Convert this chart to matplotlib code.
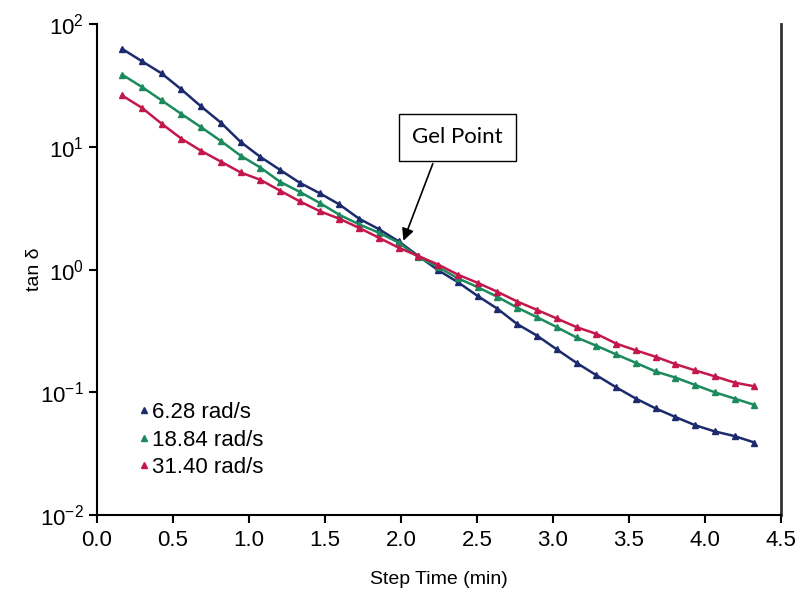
import numpy as np
import matplotlib
matplotlib.use("Agg")
import matplotlib.pyplot as plt

plt.rcParams['font.family'] = ['Liberation Sans', 'DejaVu Sans']
plt.rcParams['mathtext.default'] = 'regular'

# step time (min), 33 samples
step_time = [0.165 + 0.13 * k for k in range(33)]

tan_628 = [63.1, 50.1, 39.8, 29.5, 21.4, 15.8, 11.0, 8.3, 6.5, 5.1, 4.2, 3.4, 2.6,
           2.14, 1.70, 1.29, 0.99, 0.79, 0.61, 0.48, 0.36, 0.29, 0.224, 0.174, 0.138,
           0.110, 0.089, 0.074, 0.063, 0.054, 0.048, 0.044, 0.039]
tan_1884 = [38.9, 30.9, 24.0, 18.6, 14.5, 11.2, 8.5, 6.8, 5.2, 4.3, 3.5, 2.8, 2.34,
            2.0, 1.66, 1.26, 1.05, 0.85, 0.72, 0.60, 0.49, 0.41, 0.34, 0.28, 0.24,
            0.204, 0.174, 0.148, 0.132, 0.115, 0.100, 0.089, 0.079]
tan_3140 = [26.3, 20.9, 15.5, 11.7, 9.3, 7.6, 6.2, 5.4, 4.4, 3.6, 3.0, 2.6, 2.19,
            1.82, 1.51, 1.29, 1.10, 0.91, 0.78, 0.66, 0.55, 0.47, 0.40, 0.34, 0.30,
            0.25, 0.22, 0.195, 0.170, 0.151, 0.135, 0.120, 0.112]

series = [
    ('6.28 rad/s', tan_628, '#1c2a6e'),
    ('18.84 rad/s', tan_1884, '#1b8a5c'),
    ('31.40 rad/s', tan_3140, '#c4174b'),
]

fig = plt.figure(figsize=(8.01, 5.92), dpi=100)
ax = fig.add_axes([0.121, 0.130, 0.854, 0.829])

for label, vals, col in series:
    ax.plot(step_time, vals, color=col, linewidth=1.8)
    ax.plot(step_time, vals, linestyle='none', marker='^', markersize=4,
            color=col, label=label)

ax.set_yscale('log')
ax.set_ylim(1e-2, 1e2)
ax.set_xlim(0, 4.5)
ax.set_xticks(np.arange(0, 4.51, 0.5))
ax.set_xticklabels([f'{t:.1f}' for t in np.arange(0, 4.51, 0.5)])
ax.set_yticks([1e-2, 1e-1, 1e0, 1e1, 1e2])
ax.yaxis.set_minor_locator(matplotlib.ticker.NullLocator())

ax.spines['top'].set_visible(False)
for s in ['left', 'bottom']:
    ax.spines[s].set_linewidth(1.5)
ax.spines['right'].set_linewidth(2.0)
ax.spines['right'].set_color('#333333')
ax.tick_params(axis='both', direction='out', length=6, width=1.5, labelsize=16)
ax.tick_params(axis='x', pad=5)

ax.set_xlabel('Step Time (min)', fontsize=14, labelpad=14)
ax.set_ylabel('tan δ', fontsize=14, labelpad=-2)

leg = ax.legend(loc='lower left', bbox_to_anchor=(0.047, 0.057), frameon=False,
                fontsize=16, handlelength=0.5, handletextpad=0.15,
                labelspacing=0.3, borderaxespad=0)

ax.annotate('Gel Point', xy=(2.01, 1.64), xytext=(2.37, 12.0),
            fontsize=16, family='Lato', ha='center', va='center',
            bbox=dict(boxstyle='square,pad=0.6', fc='white', ec='black', lw=1),
            arrowprops=dict(arrowstyle='-|>', color='black', lw=1.2,
                            relpos=(0.3, 0), mutation_scale=18))

fig.savefig('out.png', dpi=100)
